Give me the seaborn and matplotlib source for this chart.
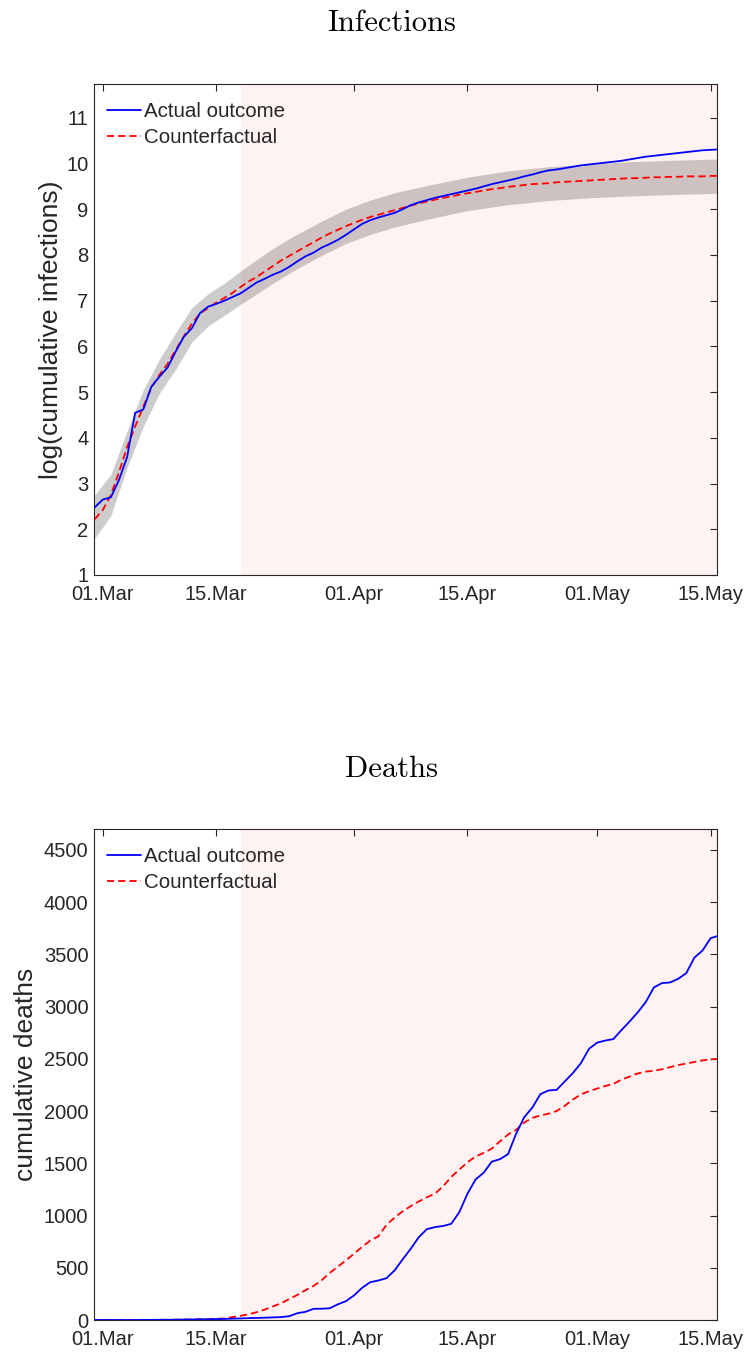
import matplotlib
matplotlib.use("Agg")
import matplotlib.pyplot as plt
import matplotlib.dates as mdates
import numpy as np
import pandas as pd
import seaborn as sns

# ---------------- data ----------------
start_date = "2020-02-29"
intervention_date = "2020-03-18"

infections_actual = [
    2.48, 2.65, 2.70, 3.08, 3.58, 4.55, 4.62, 5.12, 5.34, 5.54,
    5.89, 6.21, 6.40, 6.73, 6.87, 6.93, 7.00, 7.08, 7.16, 7.28,
    7.40, 7.48, 7.57, 7.64, 7.74, 7.86, 7.97, 8.05, 8.16, 8.24,
    8.33, 8.44, 8.56, 8.68, 8.76, 8.82, 8.87, 8.92, 9.00, 9.09,
    9.15, 9.20, 9.25, 9.29, 9.33, 9.37, 9.41, 9.45, 9.50, 9.55,
    9.59, 9.63, 9.67, 9.72, 9.76, 9.81, 9.85, 9.87, 9.90, 9.93,
    9.96, 9.98, 10.00, 10.02, 10.04, 10.06, 10.09, 10.12, 10.15, 10.17,
    10.19, 10.21, 10.23, 10.25, 10.27, 10.29, 10.30, 10.31,
]
infections_counterfactual = [
    2.22, 2.42, 2.75, 3.25, 3.80, 4.25, 4.68, 5.10, 5.38, 5.62,
    5.92, 6.22, 6.50, 6.72, 6.84, 6.96, 7.06, 7.17, 7.30, 7.42,
    7.52, 7.64, 7.76, 7.88, 7.98, 8.08, 8.18, 8.28, 8.38, 8.47,
    8.55, 8.63, 8.70, 8.77, 8.83, 8.88, 8.93, 8.98, 9.03, 9.08,
    9.13, 9.17, 9.21, 9.25, 9.28, 9.32, 9.35, 9.38, 9.41, 9.44,
    9.46, 9.49, 9.51, 9.53, 9.55, 9.56, 9.57, 9.59, 9.60, 9.61,
    9.62, 9.63, 9.64, 9.65, 9.66, 9.67, 9.68, 9.68, 9.69, 9.70,
    9.70, 9.71, 9.71, 9.72, 9.72, 9.72, 9.73, 9.73,
]
band_dates = [
    "2020-02-29", "2020-03-02", "2020-03-04", "2020-03-06", "2020-03-08",
    "2020-03-10", "2020-03-12", "2020-03-14", "2020-03-16", "2020-03-18",
    "2020-03-20", "2020-03-22", "2020-03-24", "2020-03-26", "2020-03-28",
    "2020-03-31", "2020-04-03", "2020-04-06", "2020-04-10", "2020-04-15",
    "2020-04-20", "2020-04-25", "2020-04-30", "2020-05-05", "2020-05-10",
    "2020-05-16",
]
band_lower = [
    1.80, 2.30, 3.35, 4.25, 4.98, 5.50, 6.10, 6.45, 6.68, 6.92,
    7.15, 7.38, 7.60, 7.80, 7.99, 8.25, 8.45, 8.61, 8.78, 8.97,
    9.10, 9.19, 9.25, 9.29, 9.32, 9.35,
]
band_upper = [
    2.75, 3.20, 4.15, 5.05, 5.72, 6.30, 6.85, 7.15, 7.38, 7.65,
    7.90, 8.14, 8.36, 8.55, 8.74, 9.00, 9.20, 9.36, 9.52, 9.70,
    9.84, 9.93, 9.99, 10.04, 10.07, 10.10,
]

deaths_actual = [
    0, 0, 0, 0, 0, 0, 1, 1, 2, 2,
    3, 4, 5, 6, 7, 9, 10, 13, 15, 18,
    20, 22, 25, 28, 36, 65, 78, 107, 108, 112,
    150, 180, 235, 308, 362, 378, 400, 474, 580, 682,
    793, 870, 889, 900, 921, 1033, 1209, 1345, 1410, 1516,
    1539, 1587, 1782, 1941, 2033, 2162, 2197, 2203, 2283, 2363,
    2459, 2596, 2655, 2675, 2689, 2775, 2857, 2944, 3043, 3183,
    3225, 3231, 3266, 3320, 3469, 3536, 3655, 3678,
]
deaths_counterfactual = [
    0, 0, 0, 0, 0, 1, 1, 1, 2, 2,
    3, 4, 5, 7, 9, 12, 15, 28, 40, 55,
    75, 100, 130, 160, 200, 240, 285, 325, 380, 450,
    510, 570, 635, 700, 760, 800, 910, 980, 1040, 1090,
    1135, 1175, 1210, 1280, 1370, 1440, 1510, 1565, 1600, 1640,
    1710, 1775, 1820, 1890, 1935, 1957, 1975, 2000, 2050, 2110,
    2160, 2190, 2215, 2240, 2260, 2300, 2330, 2360, 2378, 2385,
    2400, 2420, 2440, 2455, 2470, 2485, 2495, 2500,
]

xtick_dates = ["2020-03-01", "2020-03-15", "2020-04-01",
               "2020-04-15", "2020-05-01", "2020-05-15"]
infection_yticks = list(range(1, 12))
death_yticks = list(range(0, 4501, 500))
legend_labels = ["Actual outcome", "Counterfactual"]
titles = ["Infections", "Deaths"]
ylabels = ["log(cumulative infections)", "cumulative deaths"]

# ---------------- style ----------------
sns.set_theme(style="white")
plt.rcParams["font.family"] = ["Liberation Sans", "DejaVu Sans"]
plt.rcParams["axes.edgecolor"] = "#262626"
plt.rcParams["axes.linewidth"] = 0.8
plt.rcParams["xtick.color"] = "#262626"
plt.rcParams["ytick.color"] = "#262626"

dates = pd.date_range(start_date, periods=len(infections_actual), freq="D")
df_inf = pd.DataFrame({"date": dates, "actual": infections_actual,
                       "cf": infections_counterfactual})
df_dth = pd.DataFrame({"date": dates, "actual": deaths_actual,
                       "cf": deaths_counterfactual})
band_x = pd.to_datetime(band_dates)

W, H = 751, 1357
fig = plt.figure(figsize=(W / 100, H / 100), dpi=100)
ax1 = fig.add_axes([94 / W, 1 - 575 / H, 623 / W, 491 / H])
ax2 = fig.add_axes([94 / W, 1 - 1320 / H, 623 / W, 491 / H])

xlim = (pd.Timestamp("2020-03-01") - pd.Timedelta(hours=26),
        pd.Timestamp("2020-05-15") + pd.Timedelta(hours=19))
shade_start = pd.Timestamp(intervention_date)

for ax, df, yt, ylim, ttl, yl, ty, lp in [
    (ax1, df_inf, infection_yticks, (1, 11.74), titles[0], ylabels[0], 23, 2),
    (ax2, df_dth, death_yticks, (0, 4700), titles[1], ylabels[1], 769, 4),
]:
    if ax is ax1:
        ax.fill_between(band_x, band_lower, band_upper, color="#cccccc",
                        linewidth=0, zorder=1)
    ax.axvspan(shade_start, xlim[1] + pd.Timedelta(days=2), color="red",
               alpha=0.05, linewidth=0, zorder=2)
    sns.lineplot(data=df, x="date", y="actual", ax=ax, color="blue",
                 linewidth=1.3, label=legend_labels[0], zorder=4)
    sns.lineplot(data=df, x="date", y="cf", ax=ax, color="red",
                 linewidth=1.3, linestyle=(0, (4.0, 2.2)),
                 label=legend_labels[1], zorder=3)
    ax.set_xlim(xlim)
    ax.set_ylim(ylim)
    ax.set_yticks(yt)
    ax.set_xticks(pd.to_datetime(xtick_dates))
    ax.xaxis.set_major_formatter(mdates.DateFormatter("%d.%b"))
    ax.tick_params(direction="in", length=5, width=0.8, top=True,
                   right=True, labelsize=14.5, colors="#262626")
    ax.tick_params(axis="x", pad=7)
    ax.tick_params(axis="y", pad=4)
    ax.set_xlabel("")
    ax.set_ylabel(yl, fontsize=19, color="#262626", labelpad=lp)
    for s in ax.spines.values():
        s.set_visible(True)
    ax.legend(loc="upper left", bbox_to_anchor=(0.0, 1 - 5 / 491),
              frameon=False, fontsize=14.8,
              handlelength=1.65, handletextpad=0.15,
              labelspacing=0.33, borderaxespad=0.35, borderpad=0.3)
    fig.text(392 / W, 1 - ty / H, ttl, ha="center", va="center",
             fontsize=22, family="cmr10", color="black")

fig.savefig("out.png", dpi=100)
